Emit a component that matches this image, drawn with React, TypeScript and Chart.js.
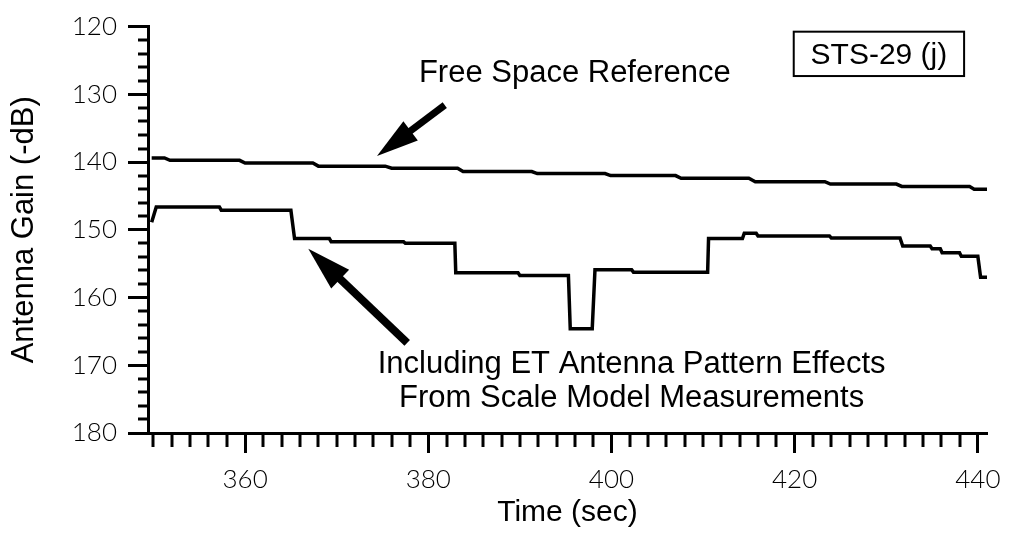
import React, { useEffect, useRef } from "react";
import { Chart, registerables } from "chart.js";

Chart.register(...registerables);

// ---- data ----
const freeSpaceX = [349.8, 351.2, 351.8, 359.4, 360.0, 367.4, 368.0, 375.3, 376.0, 383.2, 383.8, 391.3, 391.9, 399.3, 399.9, 407.0, 407.6, 415.0, 415.7, 423.3, 423.9, 431.1, 431.7, 439.1, 439.6, 441.0];
const freeSpaceY = [139.4, 139.4, 139.75, 139.75, 140.15, 140.15, 140.6, 140.6, 140.9, 140.9, 141.4, 141.4, 141.7, 141.7, 142.0, 142.0, 142.4, 142.4, 142.9, 142.9, 143.25, 143.25, 143.6, 143.6, 144.0, 144.0];

const etX = [349.8, 350.3, 357.2, 357.4, 365.0, 365.4, 369.2, 369.4, 377.3, 377.5, 382.9, 383.0, 389.8, 390.0, 395.3, 395.5, 397.9, 398.2, 402.2, 402.4, 410.5, 410.6, 414.3, 414.5, 415.8, 416.0, 423.8, 424.0, 431.5, 431.8, 434.8, 435.0, 435.9, 436.1, 438.0, 438.2, 440.0, 440.3, 441.1];
const etY = [148.9, 146.65, 146.65, 147.1, 147.1, 151.3, 151.3, 151.75, 151.75, 152.0, 152.0, 156.35, 156.35, 156.75, 156.75, 164.6, 164.6, 155.9, 155.9, 156.25, 156.25, 151.3, 151.3, 150.5, 150.5, 150.9, 150.9, 151.2, 151.2, 152.4, 152.4, 152.8, 152.8, 153.4, 153.4, 153.9, 153.9, 157.0, 157.0];

const xTickValues = [360, 380, 400, 420, 440];
const yTickValues = [120, 130, 140, 150, 160, 170, 180];
const xMin = 349.4;
const xMax = 441;
const yMin = 120;
const yMax = 180;
const xMinorStep = 2;
const yMinorStep = 2;

const xTitle = "Time (sec)";
const yTitle = "Antenna Gain (-dB)";
const freeSpaceLabel = "Free Space Reference";
const etLabelLines = ["Including ET Antenna Pattern Effects", "From Scale Model Measurements"];
const boxLabel = "STS-29 (j)";

const TEXT_FONT = '"Liberation Sans", Arial, sans-serif';
const TICK_FONT = 'Lato, "DejaVu Sans", sans-serif';

function drawArrow(
  ctx: CanvasRenderingContext2D,
  x1: number, y1: number, x2: number, y2: number,
  headLen: number, headHalf: number, shaftW: number
) {
  const ang = Math.atan2(y2 - y1, x2 - x1);
  const bx = x2 - headLen * Math.cos(ang);
  const by = y2 - headLen * Math.sin(ang);
  ctx.save();
  ctx.strokeStyle = "#000";
  ctx.fillStyle = "#000";
  ctx.lineWidth = shaftW;
  ctx.lineCap = "butt";
  ctx.beginPath();
  ctx.moveTo(x1, y1);
  ctx.lineTo(bx + 2 * Math.cos(ang), by + 2 * Math.sin(ang));
  ctx.stroke();
  const px = -Math.sin(ang);
  const py = Math.cos(ang);
  ctx.beginPath();
  ctx.moveTo(x2, y2);
  ctx.lineTo(bx + px * headHalf, by + py * headHalf);
  ctx.lineTo(bx - px * headHalf, by - py * headHalf);
  ctx.closePath();
  ctx.fill();
  ctx.restore();
}

const decorPlugin = {
  id: "decor",
  afterDraw(chart: any) {
    const ctx: CanvasRenderingContext2D = chart.ctx;
    const xs = chart.scales.x;
    const ys = chart.scales.y;
    ctx.save();
    ctx.strokeStyle = "#000";
    ctx.lineWidth = 3;
    // minor ticks on x
    for (let v = 350; v <= xMax; v += xMinorStep) {
      if (xTickValues.includes(v)) continue;
      const px = Math.round(xs.getPixelForValue(v));
      ctx.beginPath();
      ctx.moveTo(px, xs.top);
      ctx.lineTo(px, xs.top + 14);
      ctx.stroke();
    }
    // minor ticks on y
    for (let v = yMin; v <= yMax; v += yMinorStep) {
      if (yTickValues.includes(v)) continue;
      const py = Math.round(ys.getPixelForValue(v));
      ctx.beginPath();
      ctx.moveTo(ys.right - 10, py);
      ctx.lineTo(ys.right, py);
      ctx.stroke();
    }
    ctx.restore();

    const X = (v: number) => xs.getPixelForValue(v);
    const Y = (v: number) => ys.getPixelForValue(v);

    // annotations
    ctx.save();
    ctx.fillStyle = "#000";
    ctx.font = `31px ${TEXT_FONT}`;
    ctx.textAlign = "center";
    ctx.textBaseline = "alphabetic";
    ctx.fillText(freeSpaceLabel, X(396.0), Y(128.15));
    ctx.fillText(etLabelLines[0], X(402.2), Y(171.1));
    ctx.fillText(etLabelLines[1], X(402.2), Y(176.2));

    // label box
    const bx1 = X(419.9), bx2 = X(438.5), by1 = Y(120.75), by2 = Y(127.3);
    ctx.lineWidth = 2;
    ctx.strokeStyle = "#000";
    ctx.strokeRect(bx1, by1, bx2 - bx1, by2 - by1);
    ctx.font = `30px ${TEXT_FONT}`;
    ctx.textAlign = "center";
    ctx.fillText(boxLabel, (bx1 + bx2) / 2, Y(125.5));
    ctx.restore();

    drawArrow(ctx, X(381.8), Y(131.6), X(374.4), Y(139.1), 42, 12, 7);
    drawArrow(ctx, X(377.7), Y(166.7), X(366.9), Y(152.8), 44, 13, 8);
  },
};

export default function App() {
  const canvasRef = useRef<HTMLCanvasElement | null>(null);

  useEffect(() => {
    document.body.style.margin = "0";
    const canvas = canvasRef.current;
    if (!canvas) return;
    const chart = new Chart(canvas, {
      type: "line",
      data: {
        datasets: [
          {
            label: "Free Space Reference",
            data: freeSpaceX.map((x, i) => ({ x, y: freeSpaceY[i] })),
            borderColor: "#000",
            borderWidth: 3.5,
            pointRadius: 0,
            tension: 0,
            fill: false,
          },
          {
            label: "Including ET Antenna Pattern Effects",
            data: etX.map((x, i) => ({ x, y: etY[i] })),
            borderColor: "#000",
            borderWidth: 3.5,
            pointRadius: 0,
            tension: 0,
            fill: false,
          },
        ],
      },
      options: {
        responsive: false,
        animation: false,
        events: [],
        layout: { padding: { left: 0, right: 25, top: 21, bottom: 0 } },
        plugins: {
          legend: { display: false },
          tooltip: { enabled: false },
          title: { display: false },
        },
        scales: {
          x: {
            type: "linear",
            min: xMin,
            max: xMax,
            afterBuildTicks: (s: any) => {
              s.ticks = xTickValues.map((v) => ({ value: v }));
            },
            afterFit: (s: any) => {
              s.height = 105;
            },
            grid: {
              display: true,
              drawOnChartArea: false,
              drawTicks: true,
              tickLength: 20,
              tickWidth: 3,
              tickColor: "#000",
            },
            border: { display: true, width: 3, color: "#000" },
            ticks: {
              color: "#000",
              font: { family: TICK_FONT, size: 26, weight: "300" },
              padding: 11,
              maxRotation: 0,
              autoSkip: false,
            },
            title: {
              display: true,
              text: xTitle,
              color: "#000",
              font: { family: TEXT_FONT, size: 30 },
              padding: { top: 7, bottom: 7 },
            },
          },
          y: {
            type: "linear",
            reverse: true,
            min: yMin,
            max: yMax,
            afterBuildTicks: (s: any) => {
              s.ticks = yTickValues.map((v) => ({ value: v }));
            },
            afterFit: (s: any) => {
              s.width = 148;
            },
            grid: {
              display: true,
              drawOnChartArea: false,
              drawTicks: true,
              tickLength: 20,
              tickWidth: 3,
              tickColor: "#000",
            },
            border: { display: true, width: 3, color: "#000" },
            ticks: {
              color: "#000",
              font: { family: TICK_FONT, size: 26, weight: "300" },
              padding: 11,
              autoSkip: false,
            },
            title: {
              display: true,
              text: yTitle,
              color: "#000",
              font: { family: TEXT_FONT, size: 31 },
              padding: { top: 6, bottom: 6 },
            },
          },
        },
      },
      plugins: [decorPlugin],
    });
    return () => chart.destroy();
  }, []);

  return (
    <div style={{ width: 1012, height: 538, position: "relative", background: "#fff" }}>
      <canvas ref={canvasRef} width={1012} height={538} style={{ display: "block" }} />
    </div>
  );
}
